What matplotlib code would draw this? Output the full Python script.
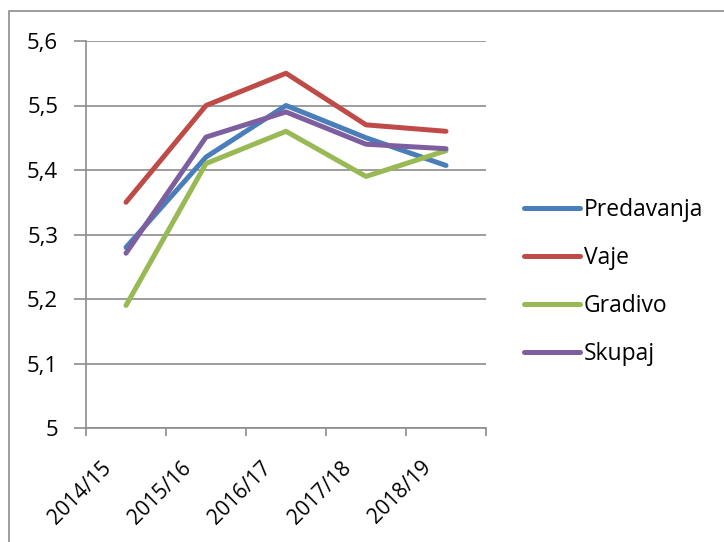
import matplotlib
matplotlib.use("Agg")
import matplotlib.pyplot as plt
from matplotlib.patches import Rectangle
from matplotlib.transforms import ScaledTranslation

categories = ["2014/15", "2015/16", "2016/17", "2017/18", "2018/19"]
predavanja = [5.28, 5.42, 5.50, 5.45, 5.407]
vaje = [5.35, 5.50, 5.55, 5.47, 5.46]
gradivo = [5.19, 5.41, 5.46, 5.39, 5.43]
skupaj = [5.271, 5.451, 5.49, 5.44, 5.433]
series_names = ["Predavanja", "Vaje", "Gradivo", "Skupaj"]
colors = ["#4A7EBB", "#BE4B48", "#98B954", "#7D5FA0"]
yticks = [5.0, 5.1, 5.2, 5.3, 5.4, 5.5, 5.6]
ytick_labels = ["5", "5,1", "5,2", "5,3", "5,4", "5,5", "5,6"]

plt.rcParams['font.family'] = ['Open Sans', 'DejaVu Sans']

W, H = 724, 542
fig = plt.figure(figsize=(W / 100, H / 100), dpi=100)
fig.patches.append(Rectangle((9 / W, -0.1), 1.2, 1 - 11 / H + 0.1, transform=fig.transFigure,
                             fill=False, edgecolor="#8c8c8c", linewidth=1.2))

ax = fig.add_axes([86 / W, 1 - 428 / H, 400 / W, 387 / H])
x = list(range(len(categories)))
for vals, name, c in zip([predavanja, vaje, gradivo, skupaj], series_names, colors):
    ax.plot(x, vals, color=c, linewidth=3.6, label=name, solid_capstyle='round',
            solid_joinstyle='round', zorder=3)

ax.set_xlim(-0.5, len(categories) - 0.5)
ax.set_ylim(5.0, 5.6)
ax.set_yticks(yticks)
ax.set_yticklabels(ytick_labels, fontsize=16)
ax.yaxis.grid(True, color="#8c8c8c", linewidth=1.2)
ax.set_axisbelow(True)

ax.set_xticks([i - 0.5 for i in range(len(categories) + 1)])
ax.set_xticklabels([])
ax.set_xticks(x, minor=True)
ax.set_xticklabels(categories, minor=True, rotation=45, ha='right', va='top', fontsize=15,
                   rotation_mode='anchor')
ax.tick_params(axis='x', which='minor', length=0, pad=21)
ax.tick_params(axis='x', which='major', length=6, color="#8c8c8c", width=1.2)
ax.tick_params(axis='y', length=9, color="#8c8c8c", width=1.2, pad=11)
for t in ax.xaxis.get_minorticklabels():
    t.set_transform(t.get_transform() + ScaledTranslation(-0.25, 0, fig.dpi_scale_trans))

for s in ['top', 'right']:
    ax.spines[s].set_visible(False)
for s in ['left', 'bottom']:
    ax.spines[s].set_color("#8c8c8c")
    ax.spines[s].set_linewidth(1.2)

leg = fig.legend(loc='center left', bbox_to_anchor=(524 / W, 1 - 282 / H), frameon=False,
                 fontsize=16.5, handlelength=2.45, handletextpad=0.15, labelspacing=1.05,
                 borderpad=0, borderaxespad=0)
for l in leg.get_lines():
    l.set_linewidth(3.6)
    l.set_solid_capstyle('round')

fig.savefig("out.png", dpi=100)
